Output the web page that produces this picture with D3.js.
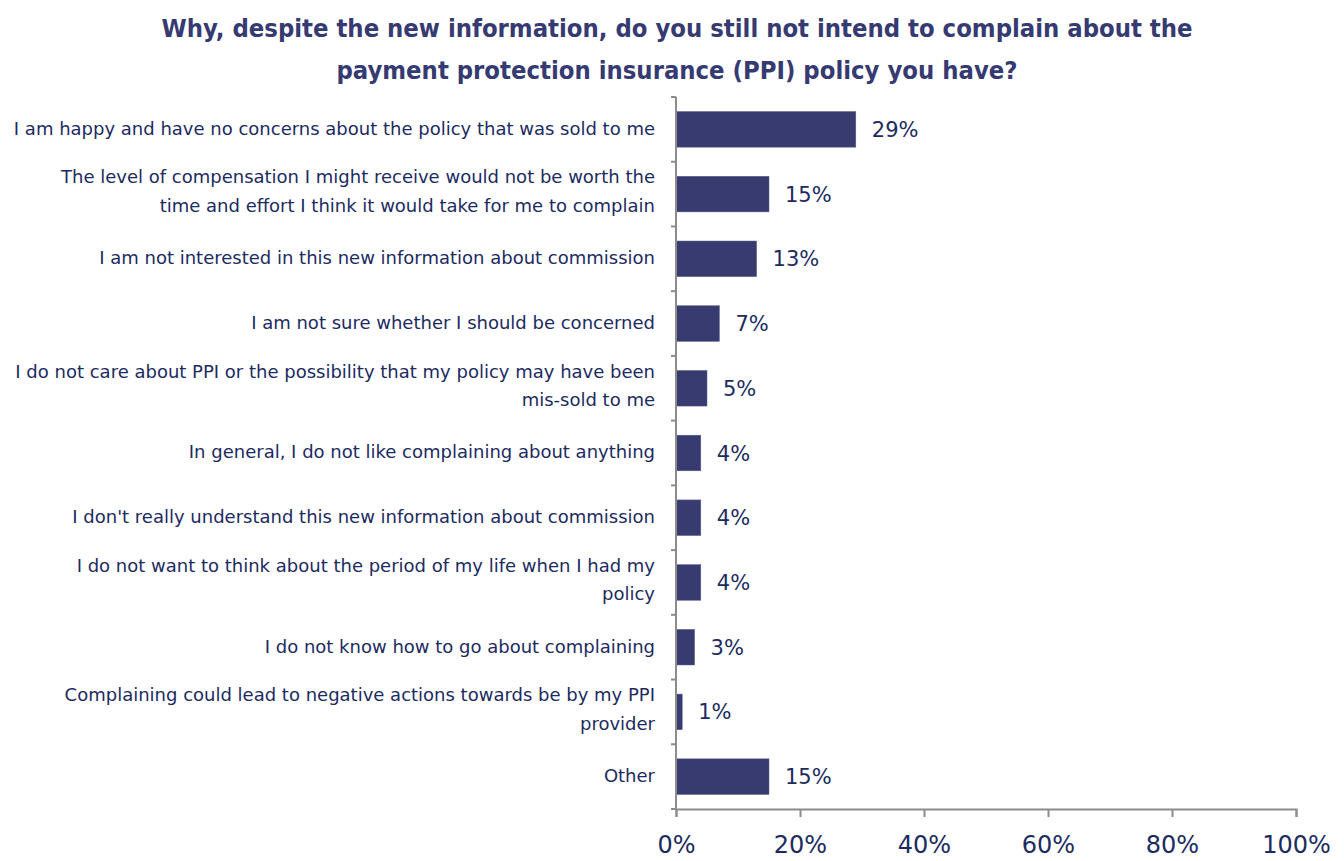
<!DOCTYPE html>
<html><head><meta charset="utf-8">
<script src="https://cdn.jsdelivr.net/npm/d3@7"></script>
<style>body{margin:0;background:#fff}</style>
</head><body>
<svg id="c" width="1344" height="861"></svg>
<script>
const categories = [
  ["I am happy and have no concerns about the policy that was sold to me"],
  ["The level of compensation I might receive would not be worth the", "time and effort I think it would take for me to complain"],
  ["I am not interested in this new information about commission"],
  ["I am not sure whether I should be concerned"],
  ["I do not care about PPI or the possibility that my policy may have been", "mis-sold to me"],
  ["In general, I do not like complaining about anything"],
  ["I don't really understand this new information about commission"],
  ["I do not want to think about the period of my life when I had my", "policy"],
  ["I do not know how to go about complaining"],
  ["Complaining could lead to negative actions towards be by my PPI", "provider"],
  ["Other"]
];
const values = [29, 15, 13, 7, 5, 4, 4, 4, 3, 1, 15];
const xTicks = [0, 20, 40, 60, 80, 100];
const titleLines = ["Why, despite the new information, do you still not intend to complain about the",
                    "payment protection insurance (PPI) policy you have?"];

const svg = d3.select("#c");
const m = {left: 676, right: 1296, top: 97, bottom: 809};
const font = "DejaVu Sans";
const navy = "#1c2b5f";

svg.selectAll("text.title").data(titleLines).join("text")
  .attr("class","title")
  .attr("x", 677).attr("y", (d,i)=> 37 + i*42)
  .attr("text-anchor","middle")
  .attr("font-family", "DejaVu Sans Condensed, DejaVu Sans").attr("font-weight","bold")
  .attr("font-size", 25.4).attr("fill", "#363a72").text(d=>d);

const idx = categories.map((d,i)=>i);
const y = d3.scaleBand().domain(idx).range([m.top, m.bottom]).paddingInner(0.45).paddingOuter(0.225);
const x = d3.scaleLinear().domain([0,100]).range([m.left, m.right]);

// bars
svg.selectAll("rect.bar").data(values).join("rect")
  .attr("x", x(0)).attr("y", (d,i)=>y(i))
  .attr("width", d=>x(d)-x(0)).attr("height", y.bandwidth())
  .attr("fill", "#383b6f").attr("stroke","#5a5d8a").attr("stroke-width",0.5);

// value labels
svg.selectAll("text.val").data(values).join("text")
  .attr("x", d=>x(d)+16).attr("y", (d,i)=>y(i)+y.bandwidth()/2)
  .attr("dy","0.36em").attr("font-family", font).attr("font-size", 21)
  .attr("fill", navy).text(d=>d+"%");

// y axis
const step = (m.bottom - m.top)/categories.length;
const yAxisG = svg.append("g").attr("transform", `translate(${m.left},0)`);
yAxisG.append("line").attr("x1",0).attr("x2",0).attr("y1",m.top).attr("y2",m.bottom).attr("stroke","#8c8c8c").attr("stroke-width",2);
yAxisG.selectAll("line.t").data(d3.range(categories.length+1)).join("line")
  .attr("x1",-5).attr("x2",0).attr("y1",i=>m.top+i*step).attr("y2",i=>m.top+i*step)
  .attr("stroke","#8c8c8c").attr("stroke-width",2);

// category labels
const lab = svg.selectAll("text.cat").data(categories).join("text")
  .attr("font-family", font).attr("font-size", 18).attr("fill", navy)
  .attr("text-anchor","end");
lab.each(function(lines,i){
  const t = d3.select(this);
  const cy = y(i)+y.bandwidth()/2;
  const lh = 28.5;
  lines.forEach((l,j)=>{
    t.append("tspan").attr("x", 655)
     .attr("y", cy + (j - (lines.length-1)/2)*lh - (lines.length>1? 3:1))
     .attr("dy","0.36em").text(l);
  });
});

// x axis
const xAxis = d3.axisBottom(x).tickValues(xTicks).tickFormat(d=>d+"%").tickSize(8).tickPadding(19);
const xg = svg.append("g").attr("transform", `translate(0,${m.bottom})`).call(xAxis);
xg.select(".domain").attr("stroke","#8c8c8c").attr("stroke-width",2);
xg.selectAll(".tick line").attr("stroke","#8c8c8c").attr("stroke-width",2);
xg.selectAll(".tick text").attr("font-family", font).attr("font-size", 24).attr("fill", navy);
</script>
</body></html>
